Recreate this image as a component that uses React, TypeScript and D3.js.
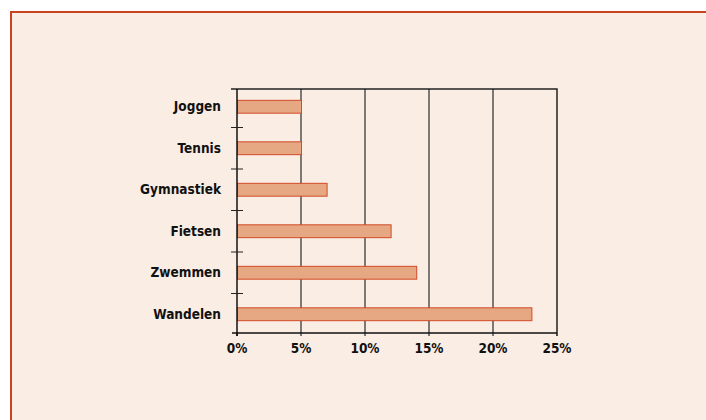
import React, { useRef, useEffect } from 'react';
import * as d3 from 'd3';

const categories = ['Joggen', 'Tennis', 'Gymnastiek', 'Fietsen', 'Zwemmen', 'Wandelen'];
const values = [5, 5, 7, 12, 14, 23];
const xTicks = [0, 5, 10, 15, 20, 25];

const App = () => {
  const svgRef = useRef<SVGSVGElement>(null);

  useEffect(() => {
    const width = 706;
    const height = 420;
    const left = 237, right = 557, top = 89, bottom = 333;
    const font = "'DejaVu Sans Condensed', 'DejaVu Sans', sans-serif";

    const svg = d3.select(svgRef.current);
    svg.selectAll('*').remove();
    svg.attr('width', width).attr('height', height);

    // background + frame (runs off the right and bottom edge)
    svg.append('rect').attr('width', width).attr('height', height).attr('fill', '#ffffff');
    svg.append('rect')
      .attr('x', 11).attr('y', 12)
      .attr('width', 760).attr('height', 480)
      .attr('fill', '#faede4')
      .attr('stroke', '#c8431f')
      .attr('stroke-width', 2);

    const x = d3.scaleLinear().domain([0, 25]).range([left, right]);
    const y = d3.scaleBand().domain(categories).range([86, 335]).paddingInner(0.69).paddingOuter(0.345);
    const step = y.step();

    const g = svg.append('g');

    // vertical grid lines
    g.selectAll('line.grid')
      .data(xTicks.slice(1, -1))
      .join('line')
      .attr('class', 'grid')
      .attr('x1', d => x(d)).attr('x2', d => x(d))
      .attr('y1', top).attr('y2', bottom + 3)
      .attr('stroke', '#2b2b2b')
      .attr('stroke-width', 1.2);

    // top and right border
    g.append('path')
      .attr('d', `M${left - 6},${top}H${right}V${bottom}`)
      .attr('fill', 'none')
      .attr('stroke', '#222')
      .attr('stroke-width', 1.5);

    // bars
    g.selectAll('rect.bar')
      .data(categories)
      .join('rect')
      .attr('class', 'bar')
      .attr('x', x(0) + 0.5)
      .attr('y', d => y(d)!)
      .attr('width', (d, i) => x(values[i]) - x(0))
      .attr('height', y.bandwidth())
      .attr('fill', '#e6a783')
      .attr('stroke', '#d24a28')
      .attr('stroke-width', 1);

    // y axis line + ticks at band boundaries
    g.append('line')
      .attr('x1', left).attr('x2', left)
      .attr('y1', top).attr('y2', bottom + 3)
      .attr('stroke', '#111').attr('stroke-width', 1.5);

    const boundaries = categories.slice(1).map(c => y(c)! - (step - y.bandwidth()) / 2);
    g.selectAll('line.ytick')
      .data(boundaries)
      .join('line')
      .attr('class', 'ytick')
      .attr('x1', left - 6).attr('x2', left + 6)
      .attr('y1', d => d).attr('y2', d => d)
      .attr('stroke', '#222').attr('stroke-width', 1);

    // x axis line
    g.append('line')
      .attr('x1', left - 5).attr('x2', right)
      .attr('y1', bottom).attr('y2', bottom)
      .attr('stroke', '#111').attr('stroke-width', 1.5);

    g.selectAll('line.xtick')
      .data([0, 25])
      .join('line')
      .attr('class', 'xtick')
      .attr('x1', d => x(d)).attr('x2', d => x(d))
      .attr('y1', bottom).attr('y2', bottom + 3)
      .attr('stroke', '#111').attr('stroke-width', 1.5);

    // category labels
    g.selectAll('text.cat')
      .data(categories)
      .join('text')
      .attr('class', 'cat')
      .attr('x', 221)
      .attr('y', d => y(d)! + y.bandwidth() / 2)
      .attr('dy', '0.35em')
      .attr('text-anchor', 'end')
      .style('font-family', font)
      .style('font-weight', 'bold')
      .style('font-size', '13.5px')
      .attr('fill', '#111')
      .text(d => d);

    // x tick labels
    g.selectAll('text.xlab')
      .data(xTicks)
      .join('text')
      .attr('class', 'xlab')
      .attr('x', d => x(d))
      .attr('y', bottom + 20)
      .attr('text-anchor', 'middle')
      .style('font-family', font)
      .style('font-weight', 'bold')
      .style('font-size', '13.5px')
      .attr('fill', '#111')
      .text(d => `${d}%`);
  }, []);

  return <svg ref={svgRef} style={{ position: 'absolute', left: 0, top: 0, display: 'block' }} />;
};

export default App;
